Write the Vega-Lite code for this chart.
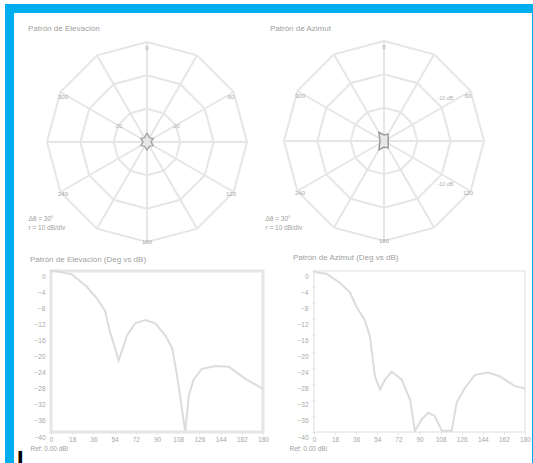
{
  "$schema": "https://vega.github.io/schema/vega-lite/v6.json",
  "background": "white",
  "padding": {"left": 5, "top": 4, "right": 0, "bottom": 0},
  "config": {
    "view": {"stroke": null},
    "font": "Liberation Sans",
    "title": {"fontSize": 8, "fontWeight": "normal", "color": "#a0a0a0", "anchor": "start", "frame": "group"},
    "axis": {"labelFontSize": 6.5, "labelColor": "#a8a8a8", "tickColor": "#e0e0e0", "domain": false, "grid": false, "titleFontWeight": "normal", "titleFontSize": 6.5, "titleColor": "#a0a0a0", "labelOverlap": false, "labelFlush": false}
  },
  "datasets": {
    "grid": [
      {"g": "ring1", "a": 0, "r": 0.333}, {"g": "ring1", "a": 30, "r": 0.333}, {"g": "ring1", "a": 60, "r": 0.333}, {"g": "ring1", "a": 90, "r": 0.333}, {"g": "ring1", "a": 120, "r": 0.333}, {"g": "ring1", "a": 150, "r": 0.333}, {"g": "ring1", "a": 180, "r": 0.333}, {"g": "ring1", "a": 210, "r": 0.333}, {"g": "ring1", "a": 240, "r": 0.333}, {"g": "ring1", "a": 270, "r": 0.333}, {"g": "ring1", "a": 300, "r": 0.333}, {"g": "ring1", "a": 330, "r": 0.333}, {"g": "ring1", "a": 360, "r": 0.333},
      {"g": "ring2", "a": 0, "r": 0.667}, {"g": "ring2", "a": 30, "r": 0.667}, {"g": "ring2", "a": 60, "r": 0.667}, {"g": "ring2", "a": 90, "r": 0.667}, {"g": "ring2", "a": 120, "r": 0.667}, {"g": "ring2", "a": 150, "r": 0.667}, {"g": "ring2", "a": 180, "r": 0.667}, {"g": "ring2", "a": 210, "r": 0.667}, {"g": "ring2", "a": 240, "r": 0.667}, {"g": "ring2", "a": 270, "r": 0.667}, {"g": "ring2", "a": 300, "r": 0.667}, {"g": "ring2", "a": 330, "r": 0.667}, {"g": "ring2", "a": 360, "r": 0.667},
      {"g": "ring3", "a": 0, "r": 1}, {"g": "ring3", "a": 30, "r": 1}, {"g": "ring3", "a": 60, "r": 1}, {"g": "ring3", "a": 90, "r": 1}, {"g": "ring3", "a": 120, "r": 1}, {"g": "ring3", "a": 150, "r": 1}, {"g": "ring3", "a": 180, "r": 1}, {"g": "ring3", "a": 210, "r": 1}, {"g": "ring3", "a": 240, "r": 1}, {"g": "ring3", "a": 270, "r": 1}, {"g": "ring3", "a": 300, "r": 1}, {"g": "ring3", "a": 330, "r": 1}, {"g": "ring3", "a": 360, "r": 1},
      {"g": "s0", "a": 0, "r": 1}, {"g": "s0", "a": 180, "r": 1},
      {"g": "s30", "a": 30, "r": 1}, {"g": "s30", "a": 210, "r": 1},
      {"g": "s60", "a": 60, "r": 1}, {"g": "s60", "a": 240, "r": 1},
      {"g": "s90", "a": 90, "r": 1}, {"g": "s90", "a": 270, "r": 1},
      {"g": "s120", "a": 120, "r": 1}, {"g": "s120", "a": 300, "r": 1},
      {"g": "s150", "a": 150, "r": 1}, {"g": "s150", "a": 330, "r": 1}
    ],
    "deglabels": [
      {"a": 0, "r": 0.97, "t": "0"}, {"a": 60, "r": 0.97, "t": "60"}, {"a": 120, "r": 0.97, "t": "120"},
      {"a": 180, "r": 0.97, "t": "180"}, {"a": 240, "r": 0.97, "t": "240"}, {"a": 300, "r": 0.97, "t": "300"}
    ],
    "blobL": [
      {"a": 0, "r": 0.09}, {"a": 30, "r": 0.05}, {"a": 60, "r": 0.07}, {"a": 90, "r": 0.04}, {"a": 120, "r": 0.07}, {"a": 150, "r": 0.05}, {"a": 180, "r": 0.08}, {"a": 210, "r": 0.05}, {"a": 240, "r": 0.07}, {"a": 270, "r": 0.04}, {"a": 300, "r": 0.07}, {"a": 330, "r": 0.05}, {"a": 360, "r": 0.09}
    ],
    "blobR": [
      {"a": 0, "r": 0.06}, {"a": 30, "r": 0.08}, {"a": 60, "r": 0.05}, {"a": 90, "r": 0.04}, {"a": 120, "r": 0.05}, {"a": 150, "r": 0.08}, {"a": 180, "r": 0.06}, {"a": 210, "r": 0.1}, {"a": 240, "r": 0.05}, {"a": 270, "r": 0.04}, {"a": 300, "r": 0.05}, {"a": 330, "r": 0.1}, {"a": 360, "r": 0.06}
    ],
    "ringlabL": [
      {"a": 299, "r": 0.33, "t": "-20"}, {"a": 61, "r": 0.33, "t": "-20"}
    ],
    "ringlabR": [
      {"a": 55, "r": 0.75, "t": "-10 dB"}, {"a": 125, "r": 0.75, "t": "-10 dB"}
    ],
    "elev": [
      {"deg": 0, "db": 0}, {"deg": 4, "db": 0}, {"deg": 18, "db": -0.9}, {"deg": 30, "db": -3.8}, {"deg": 39, "db": -6.8}, {"deg": 46, "db": -10}, {"deg": 50, "db": -15}, {"deg": 54.5, "db": -19.3}, {"deg": 57.4, "db": -22.2}, {"deg": 60, "db": -20}, {"deg": 64.5, "db": -16}, {"deg": 71.5, "db": -13}, {"deg": 80, "db": -12.2}, {"deg": 88.5, "db": -13}, {"deg": 97, "db": -16}, {"deg": 103, "db": -19.3}, {"deg": 107, "db": -26}, {"deg": 110, "db": -31.8}, {"deg": 113, "db": -38}, {"deg": 114, "db": -39.7}, {"deg": 117, "db": -31}, {"deg": 121, "db": -27}, {"deg": 128, "db": -24.3}, {"deg": 140, "db": -23.6}, {"deg": 151, "db": -23.8}, {"deg": 165, "db": -26.8}, {"deg": 180, "db": -29.3}
    ],
    "azim": [
      {"deg": 0, "db": 0}, {"deg": 2.3, "db": -0.4}, {"deg": 10.8, "db": -0.7}, {"deg": 22, "db": -2.9}, {"deg": 30.7, "db": -5.3}, {"deg": 36.4, "db": -9}, {"deg": 43.5, "db": -12.3}, {"deg": 47.8, "db": -16.4}, {"deg": 52, "db": -26.2}, {"deg": 56.3, "db": -29.4}, {"deg": 60.6, "db": -27}, {"deg": 66.3, "db": -25}, {"deg": 74.8, "db": -27}, {"deg": 82, "db": -32}, {"deg": 86, "db": -39.7}, {"deg": 92, "db": -36.8}, {"deg": 97.5, "db": -35.2}, {"deg": 103, "db": -36}, {"deg": 109, "db": -39.7}, {"deg": 117.5, "db": -39.7}, {"deg": 121.7, "db": -32.7}, {"deg": 128.8, "db": -29}, {"deg": 137.4, "db": -25.8}, {"deg": 148.7, "db": -25.2}, {"deg": 158.7, "db": -26.2}, {"deg": 171.5, "db": -28.6}, {"deg": 180, "db": -29.2}
    ]
  },
  "spacing": 0,
  "vconcat": [
    {"width": 528, "height": 9, "data": {"values": []}, "mark": "point", "view": {"fill": "#00aeef", "stroke": null}},
    {
      "spacing": 0,
      "hconcat": [
        {"width": 9, "height": 450, "data": {"values": []}, "mark": "point", "view": {"fill": "#00aeef", "stroke": null}},
        {
          "spacing": 0,
          "vconcat": [
            {"width": 10, "height": 11, "data": {"values": []}, "mark": "point"},
            {
              "spacing": 0,
              "hconcat": [
                {
                  "width": 250, "height": 176,
                  "title": {"text": "Patrón de Elevación", "dx": 14, "offset": 4},
                  "layer": [
                    {
                      "data": {"name": "grid"},
                      "transform": [{"calculate": "datum.r*sin(datum.a*PI/180)", "as": "px"}, {"calculate": "datum.r*cos(datum.a*PI/180)", "as": "py"}],
                      "mark": {"type": "line", "stroke": "#e6e6e6", "strokeWidth": 2},
                      "encoding": {
                        "x": {"field": "px", "type": "quantitative", "scale": {"domain": [-1.33, 1.17], "nice": false, "zero": false},
                          "axis": {"title": ["Δθ = 30°", "r = 10 dB/div"], "labels": false, "ticks": false, "titleX": 14, "titleAlign": "left", "titleAnchor": "start", "titleBaseline": "top", "titlePadding": 2, "titleLineHeight": 9}},
                        "y": {"field": "py", "type": "quantitative", "scale": {"domain": [-0.71, 1.05], "nice": false, "zero": false}, "axis": null},
                        "detail": {"field": "g"},
                        "order": {"field": "a"}
                      }
                    },
                    {
                      "data": {"name": "blobL"},
                      "transform": [{"calculate": "datum.r*sin(datum.a*PI/180)", "as": "px"}, {"calculate": "datum.r*cos(datum.a*PI/180)", "as": "py"}],
                      "mark": {"type": "line", "stroke": "#a8a8a8", "strokeWidth": 1.5},
                      "encoding": {"x": {"field": "px", "type": "quantitative"}, "y": {"field": "py", "type": "quantitative"}, "order": {"field": "a"}}
                    },
                    {
                      "data": {"name": "deglabels"},
                      "transform": [{"calculate": "datum.r*sin(datum.a*PI/180)", "as": "px"}, {"calculate": "datum.r*cos(datum.a*PI/180)", "as": "py"}],
                      "mark": {"type": "text", "fontSize": 6, "color": "#a8a8a8", "baseline": "top", "align": "center"},
                      "encoding": {"x": {"field": "px", "type": "quantitative"}, "y": {"field": "py", "type": "quantitative"}, "text": {"field": "t"}}
                    },
                    {
                      "data": {"name": "ringlabL"},
                      "transform": [{"calculate": "datum.r*sin(datum.a*PI/180)", "as": "px"}, {"calculate": "datum.r*cos(datum.a*PI/180)", "as": "py"}],
                      "mark": {"type": "text", "fontSize": 5.5, "color": "#b0b0b0", "baseline": "middle", "align": "center"},
                      "encoding": {"x": {"field": "px", "type": "quantitative"}, "y": {"field": "py", "type": "quantitative"}, "text": {"field": "t"}}
                    }
                  ]
                },
                {
                  "width": 262, "height": 176,
                  "title": {"text": "Patrón de Azimut", "dx": 6, "offset": 4},
                  "layer": [
                    {
                      "data": {"name": "grid"},
                      "transform": [{"calculate": "datum.r*sin(datum.a*PI/180)", "as": "px"}, {"calculate": "datum.r*cos(datum.a*PI/180)", "as": "py"}],
                      "mark": {"type": "line", "stroke": "#e6e6e6", "strokeWidth": 2},
                      "encoding": {
                        "x": {"field": "px", "type": "quantitative", "scale": {"domain": [-1.2, 1.42], "nice": false, "zero": false},
                          "axis": {"title": ["Δθ = 30°", "r = 10 dB/div"], "labels": false, "ticks": false, "titleX": 1, "titleAlign": "left", "titleAnchor": "start", "titleBaseline": "top", "titlePadding": 2, "titleLineHeight": 9}},
                        "y": {"field": "py", "type": "quantitative", "scale": {"domain": [-0.72, 1.04], "nice": false, "zero": false}, "axis": null},
                        "detail": {"field": "g"},
                        "order": {"field": "a"}
                      }
                    },
                    {
                      "data": {"name": "blobR"},
                      "transform": [{"calculate": "datum.r*sin(datum.a*PI/180)", "as": "px"}, {"calculate": "datum.r*cos(datum.a*PI/180)", "as": "py"}],
                      "mark": {"type": "line", "stroke": "#9a9a9a", "strokeWidth": 1.5},
                      "encoding": {"x": {"field": "px", "type": "quantitative"}, "y": {"field": "py", "type": "quantitative"}, "order": {"field": "a"}}
                    },
                    {
                      "data": {"name": "deglabels"},
                      "transform": [{"calculate": "datum.r*sin(datum.a*PI/180)", "as": "px"}, {"calculate": "datum.r*cos(datum.a*PI/180)", "as": "py"}],
                      "mark": {"type": "text", "fontSize": 6, "color": "#a8a8a8", "baseline": "top", "align": "center"},
                      "encoding": {"x": {"field": "px", "type": "quantitative"}, "y": {"field": "py", "type": "quantitative"}, "text": {"field": "t"}}
                    },
                    {
                      "data": {"name": "ringlabR"},
                      "transform": [{"calculate": "datum.r*sin(datum.a*PI/180)", "as": "px"}, {"calculate": "datum.r*cos(datum.a*PI/180)", "as": "py"}],
                      "mark": {"type": "text", "fontSize": 5.5, "color": "#b0b0b0", "baseline": "middle", "align": "center"},
                      "encoding": {"x": {"field": "px", "type": "quantitative"}, "y": {"field": "py", "type": "quantitative"}, "text": {"field": "t"}}
                    }
                  ]
                }
              ]
            },
            {"width": 10, "height": 7, "data": {"values": []}, "mark": "point"},
            {
              "spacing": 0,
              "hconcat": [
                {
                  "width": 14, "height": 161,
                  "data": {"values": [{"v": 0}]},
                  "mark": {"type": "point", "opacity": 0, "size": 1},
                  "encoding": {
                    "x": {"field": "v", "type": "quantitative", "axis": {"title": "▌", "labels": false, "ticks": false, "titleColor": "#000000", "titleFontSize": 10, "titleX": 4, "titleAlign": "left", "titleBaseline": "top", "titlePadding": 19}}
                  }
                },
                {
                  "width": 212, "height": 161,
                  "view": {"stroke": "#e6e6e6", "strokeWidth": 3},
                  "title": {"text": "Patrón de Elevación (Deg vs dB)", "dx": -21, "offset": 3},
                  "data": {"name": "elev"},
                  "mark": {"type": "line", "stroke": "#dcdcdc", "strokeWidth": 2},
                  "encoding": {
                    "x": {"field": "deg", "type": "quantitative", "scale": {"domain": [0, 180], "nice": false},
                      "axis": {"values": [0, 18, 36, 54, 72, 90, 108, 126, 144, 162, 180], "tickSize": 2, "labelPadding": 2, "title": "Ref: 0.00 dBi", "titleX": -21, "titleAlign": "left", "titleAnchor": "start", "titlePadding": 3}},
                    "y": {"field": "db", "type": "quantitative", "scale": {"domain": [-40, 0], "nice": false},
                      "axis": {"values": [0, -4, -8, -12, -16, -20, -24, -28, -32, -36, -40], "tickSize": 2, "labelPadding": 4, "labelOffset": 5, "title": null}}
                  }
                },
                {"width": 18, "height": 1, "data": {"values": []}, "mark": "point"},
                {
                  "width": 211, "height": 161,
                  "view": {"stroke": "#eeeeee", "strokeWidth": 2},
                  "title": {"text": "Patrón de Azimut (Deg vs dB)", "dx": -21, "offset": 5},
                  "data": {"name": "azim"},
                  "mark": {"type": "line", "stroke": "#dcdcdc", "strokeWidth": 2},
                  "encoding": {
                    "x": {"field": "deg", "type": "quantitative", "scale": {"domain": [0, 180], "nice": false},
                      "axis": {"values": [0, 18, 36, 54, 72, 90, 108, 126, 144, 162, 180], "tickSize": 2, "labelPadding": 2, "title": "Ref: 0.00 dBi", "titleX": -25, "titleAlign": "left", "titleAnchor": "start", "titlePadding": 3}},
                    "y": {"field": "db", "type": "quantitative", "scale": {"domain": [-40, 0], "nice": false},
                      "axis": {"values": [0, -4, -8, -12, -16, -20, -24, -28, -32, -36, -40], "tickSize": 2, "labelPadding": 4, "labelOffset": 5, "title": null}}
                  }
                }
              ]
            }
          ]
        },
        {"width": 7, "height": 450, "data": {"values": []}, "mark": "point", "view": {"fill": "#00aeef", "stroke": null}}
      ]
    }
  ]
}
